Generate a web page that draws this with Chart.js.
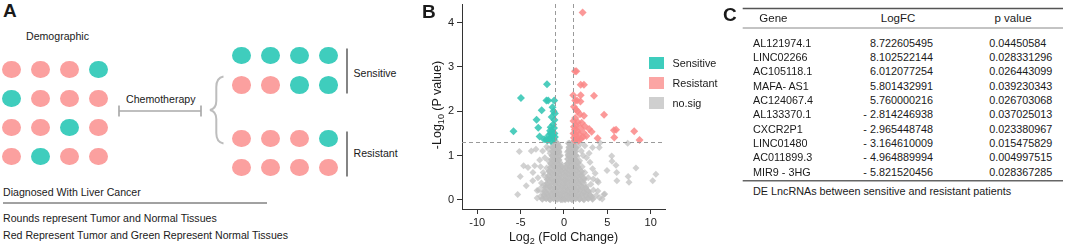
<!DOCTYPE html>
<html><head><meta charset="utf-8">
<script src="https://cdn.jsdelivr.net/npm/chart.js@4/dist/chart.umd.min.js"></script>
<style>
html,body{margin:0;padding:0;background:#fff;}
#root{position:relative;width:1065px;height:247px;overflow:hidden;font-family:"Liberation Sans",Arial,sans-serif;color:#1a1a1a;}
.t{position:absolute;white-space:nowrap;line-height:14px;height:14px;}
.dot{position:absolute;width:19px;height:17.5px;border-radius:50%;}
.sq{position:absolute;width:15px;height:12px;}
svg{position:absolute;left:0;top:0;}
</style></head><body><div id="root">
<svg width="1065" height="247" id="lines"></svg>
<canvas id="volcano" width="250" height="247" style="position:absolute;left:420px;top:0;"></canvas>
</div>
<script>
// ---------- DATA ----------
// Panel A: circle groups (R = tumor / red, G = normal / green)
const demographicGroup = ['RRRG', 'GRRR', 'RRGR', 'RGRR'];
const sensitiveGroup = ['GGGG', 'RRGG'];
const resistantGroup = ['RRRG', 'RRRR'];
const panelAText = ['Demographic', 'Chemotherapy', 'Sensitive', 'Resistant',
  'Diagnosed With Liver Cancer', 'Rounds represent  Tumor and Normal Tissues',
  'Red Represent Tumor and Green Represent Normal Tissues'];

// Panel B: volcano plot points [log2FC, -log10 p]
const sensitivePts = [[-1.96,2.61],[-4.96,2.30],[-5.82,1.55],[-3.16,1.81],[-2.57,2.02],[-2.97,1.63],[-2.81,1.43],
  [-2.02,2.24],[-1.82,2.24],[-1.12,2.24],[-1.32,2.09],[-1.2,2.0],[-1.42,1.87],[-1.1,1.8],[-1.25,1.7],[-1.53,1.64],
  [-1.15,1.62],[-1.35,1.55],[-1.55,1.5],[-1.75,1.46],[-1.1,1.5],[-1.4,1.42],[-1.65,1.38],[-1.2,1.36],[-1.05,1.42],
  [-1.9,1.34],[-2.3,1.37],[-2.05,1.36],[-1.5,1.33],[-1.3,1.46],[-1.05,1.95],[-1.6,1.56]];
const resistantPts = [[2.15,4.23],[1.27,2.90],[1.42,2.90],[1.93,2.60],[2.3,2.60],[1.07,2.36],[1.93,2.36],[3.46,2.35],
  [1.3,2.24],[1.5,2.24],[1.9,2.22],[1.38,2.04],[1.15,2.1],[1.55,2.0],[4.62,1.92],[1.85,1.93],[2.3,1.9],[1.3,1.85],
  [1.1,1.78],[1.6,1.75],[2.04,1.74],[1.4,1.68],[1.15,1.65],[2.4,1.66],[1.9,1.62],[1.25,1.58],[1.55,1.55],[3.19,1.54],
  [2.23,1.52],[1.1,1.5],[1.75,1.48],[1.35,1.46],[2.6,1.44],[1.15,1.4],[1.5,1.38],[1.95,1.38],[2.2,1.42],[1.25,1.34],
  [3.88,1.39],[5.76,1.57],[6.01,1.58],[5.80,1.41],[8.10,1.55],[8.72,1.35],[2.9,1.6],[1.7,1.34]];
// scattered non-significant genes
const noSigPts = [
  [-0.9,1.28],[-0.7,1.25],[-0.5,1.2],[-0.95,1.15],[-0.6,1.1],[-0.8,1.05],[-0.4,1.0],[-1.0,0.98],[-0.7,0.92],[-0.5,0.85],
  [-0.9,0.82],[-0.6,0.75],[-0.8,0.68],[-0.4,0.65],[-1.0,0.6],[-0.65,0.55],[-0.85,0.48],[-0.45,0.45],[-0.95,0.4],[-0.6,0.35],
  [-0.8,0.28],[-0.4,0.25],[-1.0,0.2],[-0.65,0.15],[-0.85,0.08],[-0.45,0.05],[-0.7,0.02],
  [-1.2,1.27],[-1.4,1.2],[-1.1,1.12],[-1.6,1.05],[-1.3,0.98],[-1.15,0.9],[-1.8,0.88],[-1.5,0.8],[-1.2,0.75],[-2.0,0.72],
  [-1.7,0.65],[-1.35,0.6],[-2.3,0.55],[-1.9,0.5],[-1.5,0.45],[-1.2,0.4],[-2.6,0.38],[-2.1,0.33],[-1.7,0.3],[-1.35,0.25],
  [-2.9,0.22],[-2.4,0.18],[-1.9,0.14],[-1.5,0.1],[-1.2,0.06],[-2.2,0.05],[-2.7,0.08],[-3.1,0.04],[-1.7,0.02],
  [-0.2,0.78],[0.1,0.72],[-0.3,0.65],[0.2,0.6],[0,0.55],[-0.25,0.5],[0.25,0.45],[-0.1,0.42],[0.1,0.35],[-0.3,0.32],
  [0.3,0.28],[0,0.25],[-0.2,0.18],[0.2,0.15],[0,0.1],[-0.3,0.06],[0.3,0.04],[0.05,0.02],[-0.15,0.0],[0.15,0.0],[0.4,0.1],[-0.4,0.12],
  [0.5,1.28],[0.8,1.25],[0.95,1.2],[0.6,1.15],[0.4,1.08],[0.85,1.05],[0.55,0.98],[0.9,0.92],[0.7,0.88],[0.45,0.82],
  [1.0,0.78],[0.65,0.72],[0.85,0.65],[0.5,0.6],[0.95,0.55],[0.7,0.5],[0.45,0.42],[0.9,0.38],[0.6,0.32],[0.8,0.25],
  [0.5,0.2],[0.95,0.15],[0.7,0.1],[0.55,0.05],[0.85,0.02],
  [1.1,1.25],[1.3,1.15],[1.15,1.05],[1.5,0.98],[1.2,0.92],[1.8,0.88],[1.4,0.82],[1.1,0.75],[2.1,0.75],[1.7,0.7],
  [1.35,0.65],[2.4,0.62],[2.0,0.58],[1.6,0.55],[1.25,0.5],[2.8,0.5],[2.3,0.45],[1.9,0.42],[1.5,0.38],[1.2,0.32],
  [3.1,0.35],[2.6,0.3],[2.1,0.28],[1.7,0.24],[1.35,0.2],[3.4,0.22],[2.9,0.18],[2.4,0.15],[1.9,0.12],[1.5,0.08],
  [1.2,0.04],[3.7,0.1],[3.2,0.07],[2.7,0.05],[2.2,0.03],[4.1,0.05],[4.6,0.12],[3.9,0.2],[4.4,0.02],[1.8,0.02],
  [1.6,1.2],[2.0,1.1],[1.3,1.28],[2.2,1.0],[2.6,0.95],[3.0,0.85],[2.4,1.22],[1.9,1.28],[3.3,0.7],[3.6,0.6],[2.9,1.05],
  [4.07,1.18],[4.15,1.29],[5.5,0.99],[5.54,0.87],[4.96,0.66],[6.0,0.78],[6.08,0.62],[8.3,0.72],[7.35,1.28],[10.6,0.58],
  [10.23,0.43],[7.4,0.53],[7.5,0.4],[3.38,0.47],[3.96,0.4],[3.3,1.18],[3.85,0.43],[4.7,0.13],[6.1,0.43],
  [-5.15,1.09],[-3.77,1.10],[-3.23,1.14],[-2.46,1.1],[-2.8,0.9],[-4.65,0.77],[-4.15,0.73],[-3.38,0.77],[-3.58,0.62],
  [-5.04,0.53],[-4.35,0.32],[-5.34,0.12],[-3.6,0.43],[-3.1,0.21],[-2.4,0.62],[-2.2,0.95],[-2.0,1.2],[-2.7,0.75],
  [-1.8,1.15],[-3.0,0.5],[-2.5,0.3]];
// dense core of non-significant genes (the solid grey V)
const noSigCorePts = [
  [-2.5,0.02],[-2.05,0.03],[-1.6,0.01],[-1.2,0.03],[-0.8,0.02],[-0.35,0.01],[0.1,0.03],[0.5,0.02],[0.92,0.01],[1.35,0.03],[1.8,0.02],[2.3,0.01],[2.8,0.03],[3.3,0.02],
  [-2.3,0.11],[-1.85,0.1],[-1.4,0.12],[-1.0,0.09],[-0.6,0.11],[-0.15,0.1],[0.3,0.12],[0.75,0.09],[1.15,0.11],[1.6,0.1],[2.05,0.12],[2.55,0.1],[3.0,0.11],
  [-2.2,0.19],[-1.7,0.2],[-1.25,0.18],[-0.85,0.2],[-0.4,0.19],[0.05,0.21],[0.5,0.18],[0.95,0.2],[1.4,0.19],[1.85,0.21],[2.3,0.18],[2.75,0.2],
  [-2.1,0.28],[-1.6,0.29],[-1.15,0.27],[-0.7,0.29],[-0.25,0.28],[0.2,0.3],[0.65,0.27],[1.1,0.29],[1.55,0.28],[2.0,0.3],[2.5,0.27],
  [-1.95,0.37],[-1.5,0.38],[-1.05,0.36],[-0.6,0.38],[-0.1,0.37],[0.35,0.39],[0.8,0.36],[1.25,0.38],[1.7,0.37],[2.2,0.39],
  [-1.9,0.46],[-1.4,0.47],[-0.95,0.45],[-0.5,0.47],[0.0,0.46],[0.45,0.48],[0.9,0.45],[1.35,0.47],[1.8,0.46],[2.3,0.48],
  [-1.75,0.55],[-1.3,0.56],[-0.85,0.54],[-0.4,0.56],[0.1,0.55],[0.55,0.57],[1.0,0.54],[1.45,0.56],[1.95,0.55],
  [-1.65,0.64],[-1.2,0.65],[-0.75,0.63],[-0.3,0.65],[0.15,0.64],[0.6,0.66],[1.05,0.63],[1.5,0.65],[2.0,0.64],
  [-1.55,0.73],[-1.1,0.74],[-0.7,0.72],[-0.25,0.74],[0.25,0.73],[0.7,0.75],[1.1,0.72],[1.6,0.74],
  [-1.5,0.82],[-1.05,0.83],[-0.65,0.81],[0.4,0.82],[0.8,0.84],[1.2,0.81],[1.65,0.83],
  [-1.4,0.91],[-1.0,0.92],[-0.6,0.9],[0.45,0.92],[0.85,0.9],[1.3,0.91],
  [-1.35,1.0],[-0.95,1.01],[-0.55,0.99],[0.5,1.01],[0.9,0.99],[1.35,1.0],
  [-1.3,1.09],[-0.9,1.1],[-0.6,1.08],[0.55,1.1],[0.95,1.08],[1.3,1.09],
  [-1.25,1.18],[-0.85,1.19],[-0.55,1.17],[0.6,1.19],[1.0,1.17],[1.35,1.18],
  [-1.2,1.27],[-0.8,1.28],[0.65,1.27],[1.05,1.28]];
const xTicks = [-10, -5, 0, 5, 10];
const yTicks = [0, 1, 2, 3, 4];
const fcCutoffs = [-1, 1];
const pCutoff = 0.05;
const legendLabels = ['Sensitive', 'Resistant', 'no.sig'];

// Panel C: table
const tableHeader = ['Gene', 'LogFC', 'p value'];
const genes = ['AL121974.1','LINC02266','AC105118.1','MAFA- AS1','AC124067.4','AL133370.1','CXCR2P1','LINC01480','AC011899.3','MIR9 - 3HG'];
const logFC = [8.722605495, 8.102522144, 6.012077254, 5.801432991, 5.760000216, -2.814246938, -2.965448748, -3.164610009, -4.964889994, -5.821520456];
const pValues = [0.04450584, 0.028331296, 0.026443099, 0.039230343, 0.026703068, 0.037025013, 0.023380967, 0.015475829, 0.004997515, 0.028367285];
const tableCaption = 'DE LncRNAs between sensitive and resistant patients';

// ---------- STYLE ----------
const RED = '#FBA09F', GREEN = '#3FCDBD';
const root = document.getElementById('root');
const svg = document.getElementById('lines');

function text(str, x, cy, o = {}) {
  const d = document.createElement('div');
  d.className = 't';
  d.innerHTML = str;
  d.style.fontSize = (o.size || 10.6) + 'px';
  if (o.weight) d.style.fontWeight = o.weight;
  d.style.left = x + 'px';
  d.style.top = (cy - 7) + 'px';
  if (o.align === 'right') d.style.transform = 'translateX(-100%)';
  if (o.align === 'center') d.style.transform = 'translateX(-50%)';
  if (o.rotate) { d.style.transform = 'translate(-50%,0) rotate(-90deg)'; d.style.transformOrigin = '50% 50%'; }
  if (o.color) d.style.color = o.color;
  root.appendChild(d);
  return d;
}
function line(x1, y1, x2, y2, color, w) {
  const l = document.createElementNS('http://www.w3.org/2000/svg', 'line');
  l.setAttribute('x1', x1); l.setAttribute('y1', y1); l.setAttribute('x2', x2); l.setAttribute('y2', y2);
  l.setAttribute('stroke', color); l.setAttribute('stroke-width', w);
  svg.appendChild(l);
}
function circles(group, cols, rows) {
  group.forEach((row, r) => row.split('').forEach((c, i) => {
    const d = document.createElement('div');
    d.className = 'dot';
    d.style.background = c === 'R' ? RED : GREEN;
    d.style.left = (cols[i] - 9.5) + 'px';
    d.style.top = (rows[r] - 8.75) + 'px';
    root.appendChild(d);
  }));
}

// ---------- PANEL A ----------
text('A', 3, 11, {size: 19, weight: 'bold'});
text(panelAText[0], 26, 36);
circles(demographicGroup, [11, 40, 69.3, 98.7], [69.3, 98.5, 127.7, 156.7]);
text(panelAText[1], 126, 99);
line(119, 111, 201, 111, '#aaa', 1.7);
line(119, 105.5, 119, 116.5, '#aaa', 1.7);
line(201, 105.5, 201, 116.5, '#aaa', 1.7);
const brace = document.createElementNS('http://www.w3.org/2000/svg', 'path');
brace.setAttribute('d', 'M223.5,76.5 C218,77.5 216.3,81 216.3,87 L216.3,101 C216.3,106.5 214,109 210,110 C214,111 216.3,113.5 216.3,119 L216.3,133 C216.3,139 218,142.5 223.5,143.5');
brace.setAttribute('fill', 'none'); brace.setAttribute('stroke', '#bdbdbd'); brace.setAttribute('stroke-width', '2');
svg.appendChild(brace);
circles(sensitiveGroup, [241, 270.2, 299.3, 328.5], [55.7, 85]);
circles(resistantGroup, [241, 270.2, 299.3, 328.5], [138.5, 167.5]);
line(347, 48.5, 347, 93.5, '#333', 1.2);
line(347, 131.5, 347, 176.5, '#333', 1.2);
text(panelAText[2], 353.5, 73);
text(panelAText[3], 353.5, 153);
text(panelAText[4], 3, 192);
line(3, 203, 267, 203, '#444', 1);
text(panelAText[5], 3, 218);
text(panelAText[6], 3, 235);

// ---------- PANEL B ----------
text('B', 422, 11.5, {size: 19, weight: 'bold'});
text('-Log<sub style="font-size:9px;vertical-align:-3px">10</sub> (P value)', 437, 105, {size: 12.5, rotate: true});
text('Log<sub style="font-size:9px;vertical-align:-3px">2</sub> (Fold Change)', 563.5, 237, {size: 12.5, align: 'center'});
const legendColors = ['#3ECDBD', '#FBA5A4', '#CFCFCF'];
legendLabels.forEach((lab, i) => {
  const s = document.createElement('div');
  s.className = 'sq'; s.style.background = legendColors[i];
  s.style.left = '649px'; s.style.top = (57.3 + 20 * i) + 'px';
  root.appendChild(s);
  text(lab, 672.5, 63.3 + 20 * i, {size: 10.8});
});

const refLines = {
  id: 'refLines',
  afterDatasetsDraw(chart) {
    const {ctx, chartArea: a, scales: {x, y}} = chart;
    ctx.save();
    ctx.strokeStyle = '#9a9a9a'; ctx.lineWidth = 1; ctx.setLineDash([4, 3]);
    fcCutoffs.forEach(v => {
      const px = Math.round(x.getPixelForValue(v)) + 0.5;
      ctx.beginPath(); ctx.moveTo(px, a.top); ctx.lineTo(px, a.bottom); ctx.stroke();
    });
    const py = Math.round(y.getPixelForValue(-Math.log10(pCutoff))) + 0.5;
    ctx.beginPath(); ctx.moveTo(a.left, py); ctx.lineTo(a.right, py); ctx.stroke();
    ctx.restore();
  }
};
const toXY = arr => arr.map(([x, y]) => ({x, y}));
const tickFont = {family: '"Liberation Sans", Arial, sans-serif', size: 11};
new Chart(document.getElementById('volcano'), {
  type: 'scatter',
  data: {datasets: [
    {label: legendLabels[0], data: toXY(sensitivePts), pointStyle: 'rectRot', pointRadius: 4, borderWidth: 0, backgroundColor: 'rgba(52,198,180,0.88)'},
    {label: legendLabels[1], data: toXY(resistantPts), pointStyle: 'rectRot', pointRadius: 4, borderWidth: 0, backgroundColor: 'rgba(250,135,135,0.85)'},
    {label: legendLabels[2], data: toXY(noSigPts), pointStyle: 'rectRot', pointRadius: 3.5, borderWidth: 0, backgroundColor: 'rgba(190,190,190,0.7)'},
    {label: legendLabels[2] + ' core', data: toXY(noSigCorePts), pointStyle: 'rectRot', pointRadius: 3.8, borderWidth: 0, backgroundColor: 'rgba(190,190,190,0.9)'}
  ]},
  options: {
    responsive: false, animation: false, devicePixelRatio: 1,
    layout: {padding: {top: 2, right: 5, left: 0, bottom: 0}},
    plugins: {legend: {display: false}, tooltip: {enabled: false}},
    scales: {
      x: {
        type: 'linear', min: -11.76, max: 11.65,
        afterBuildTicks: s => { s.ticks = xTicks.map(v => ({value: v})); },
        afterFit: s => { s.height = 38; s.paddingLeft = 0; s.paddingRight = 0; },
        ticks: {font: tickFont, color: '#222', padding: 2, maxRotation: 0, autoSkip: false},
        grid: {display: true, drawOnChartArea: false, drawTicks: true, tickLength: 5, color: '#333'},
        border: {display: true, color: '#333', width: 1}
      },
      y: {
        type: 'linear', min: -0.206, max: 4.42,
        afterBuildTicks: s => { s.ticks = yTicks.map(v => ({value: v})); },
        afterFit: s => { s.width = 42; s.paddingTop = 0; s.paddingBottom = 0; },
        ticks: {font: tickFont, color: '#222', padding: 3, autoSkip: false},
        grid: {display: true, drawOnChartArea: false, drawTicks: true, tickLength: 5, color: '#333'},
        border: {display: true, color: '#333', width: 1}
      }
    }
  },
  plugins: [refLines]
});

// ---------- PANEL C ----------
text('C', 723, 14.5, {size: 19, weight: 'bold'});
line(742.7, 8.5, 1063, 8.5, '#555', 1.5);
text(tableHeader[0], 759.3, 18.3, {size: 11.5});
text(tableHeader[1], 898, 18.3, {size: 11.5, align: 'center'});
text(tableHeader[2], 1013, 18.3, {size: 11.5, align: 'center'});
line(742.7, 28, 1063, 28, '#888', 1);
genes.forEach((g, i) => {
  const cy = 42.7 + i * 14.33;
  text(g, 753, cy, {size: 10.8});
  const v = logFC[i];
  text(v < 0 ? '- ' + Math.abs(v) : String(v), 933, cy, {size: 10.8, align: 'right'});
  text(String(pValues[i]), 989.3, cy, {size: 10.8});
});
line(742.7, 180.7, 1063, 180.7, '#666', 1.5);
text(tableCaption, 753, 191, {size: 10.8});
</script>
</body></html>
